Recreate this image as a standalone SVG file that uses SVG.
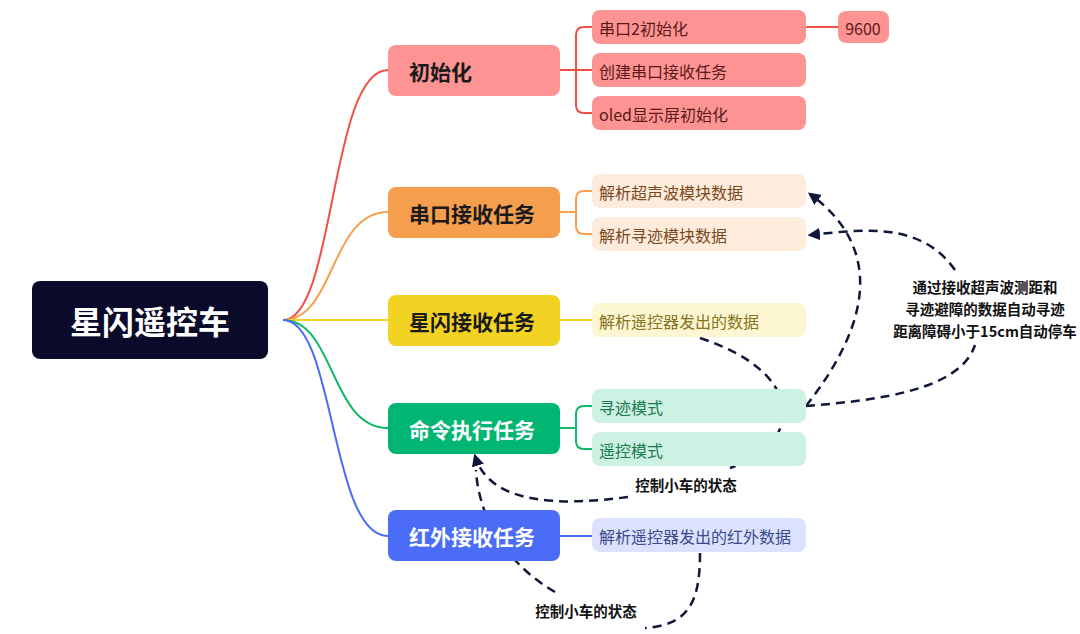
<svg xmlns="http://www.w3.org/2000/svg" width="1080" height="634" viewBox="0 0 1080 634">
<defs>
<style>
text{font-family:"Noto Sans CJK SC","Noto Sans",sans-serif;dominant-baseline:central}
.main{font-size:21px;font-weight:bold}
.sub{font-size:16px}
.lbl{font-size:14.5px;font-weight:bold;fill:#111;text-anchor:middle}
.br{fill:none;stroke-width:2}
.dash{fill:none;stroke:#10183a;stroke-width:2.5;stroke-dasharray:9,6}
</style>
<marker id="ah" viewBox="0 0 10 10" refX="8" refY="5" markerWidth="5" markerHeight="5" orient="auto-start-reverse"><path d="M0,0L10,5L0,10z" fill="#10183a"/></marker>
</defs>
<rect width="1080" height="634" fill="#fff"/>
<g id="connectors">
<path class="br" stroke="#F04E48" d="M283,320 C335,320 330,70 388,70"/>
<path class="br" stroke="#F5A14F" d="M283,320 C335,320 330,212 388,212"/>
<path class="br" stroke="#F2D324" d="M283,320 L388,320"/>
<path class="br" stroke="#12B76A" d="M283,320 C335,320 330,428 388,428"/>
<path class="br" stroke="#4A6CF7" d="M283,320 C335,320 330,536 388,536"/>
<path class="br" stroke="#F04E48" d="M560,70 H576 M592,27 H584 Q576,27 576,35 V105 Q576,113 584,113 H592 M576,70 H592 M806,27 H838"/>
<path class="br" stroke="#F5A14F" d="M560,212 H576 M592,191 H584 Q576,191 576,199 V226 Q576,234 584,234 H592"/>
<path class="br" stroke="#F2D324" d="M560,320 H592"/>
<path class="br" stroke="#12B76A" d="M560,428 H576 M592,406 H584 Q576,406 576,414 V441 Q576,449 584,449 H592"/>
<path class="br" stroke="#4A6CF7" d="M560,536 H592"/>
<path class="dash" marker-end="url(#ah)" d="M806,406 C850,350 900,260 810,194"/>
<path class="dash" d="M806,406 C880,400 960,390 975,345"/>
<path class="dash" marker-end="url(#ah)" d="M955,270 C920,220 860,230 810,235"/>
<path class="dash" d="M700,338 C800,370 810,440 730,468"/>
<path class="dash" marker-end="url(#ah)" d="M628,497 C560,506 490,505 475,456"/>
<path class="dash" d="M700,553 C700,600 690,625 645,628"/>
<path class="dash" d="M555,592 C500,560 478,510 476,470"/>
</g>
<g id="root"><rect x="32" y="281" width="236" height="78" rx="8" fill="#0a0a2a"/><text x="150" y="320" class="main" text-anchor="middle" style="font-size:32px" fill="#fff">星闪遥控车</text></g>
<g id="n-init"><rect x="388" y="45" width="172" height="51" rx="8" fill="#FD9393"/><text x="409" y="71" class="main" fill="#1a1a1a">初始化</text></g>
<g id="n-uart"><rect x="388" y="187" width="172" height="51" rx="8" fill="#F59E4D"/><text x="409" y="213" class="main" fill="#1a1a1a">串口接收任务</text></g>
<g id="n-sl"><rect x="388" y="295" width="172" height="51" rx="8" fill="#F2D324"/><text x="409" y="321" class="main" fill="#1a1a1a">星闪接收任务</text></g>
<g id="n-cmd"><rect x="388" y="403" width="172" height="51" rx="8" fill="#00B672"/><text x="409" y="429" class="main" fill="#fff">命令执行任务</text></g>
<g id="n-ir"><rect x="388" y="510" width="172" height="51" rx="8" fill="#4A6CF7"/><text x="409" y="536" class="main" fill="#fff">红外接收任务</text></g>
<g id="s1"><rect x="592" y="10" width="214" height="34" rx="8" fill="#FD9393"/><text x="599" y="28" class="sub" fill="#5a1a1a">串口2初始化</text></g>
<g id="s9600"><rect x="838" y="11" width="51" height="32" rx="8" fill="#FD9393"/><text x="863" y="28" class="sub" fill="#5a1a1a" text-anchor="middle">9600</text></g>
<g id="s2"><rect x="592" y="53" width="214" height="34" rx="8" fill="#FD9393"/><text x="599" y="71" class="sub" fill="#5a1a1a">创建串口接收任务</text></g>
<g id="s3"><rect x="592" y="96" width="214" height="34" rx="8" fill="#FD9393"/><text x="599" y="114" class="sub" fill="#5a1a1a">oled显示屏初始化</text></g>
<g id="s4"><rect x="592" y="174" width="214" height="34" rx="8" fill="#FDEBDC"/><text x="599" y="192" class="sub" fill="#7a4a1e">解析超声波模块数据</text></g>
<g id="s5"><rect x="592" y="217" width="214" height="34" rx="8" fill="#FDEBDC"/><text x="599" y="235" class="sub" fill="#7a4a1e">解析寻迹模块数据</text></g>
<g id="s6"><rect x="592" y="303" width="214" height="34" rx="8" fill="#FCF6D2"/><text x="599" y="321" class="sub" fill="#857420">解析遥控器发出的数据</text></g>
<g id="s7"><rect x="592" y="389" width="214" height="34" rx="8" fill="#CDF1E3"/><text x="599" y="407" class="sub" fill="#1a7a50">寻迹模式</text></g>
<g id="s8"><rect x="592" y="432" width="214" height="34" rx="8" fill="#CDF1E3"/><text x="599" y="450" class="sub" fill="#1a7a50">遥控模式</text></g>
<g id="s9"><rect x="592" y="518" width="214" height="34" rx="8" fill="#DCE2FD"/><text x="599" y="536" class="sub" fill="#3a4a8a">解析遥控器发出的红外数据</text></g>
<g id="labels">
<text class="lbl" x="985" y="286">通过接收超声波测距和</text>
<text class="lbl" x="985" y="308">寻迹避障的数据自动寻迹</text>
<text class="lbl" x="985" y="330">距离障碍小于15cm自动停车</text>
<text class="lbl" x="686" y="484">控制小车的状态</text>
<text class="lbl" x="586" y="610">控制小车的状态</text>
</g>
</svg>
